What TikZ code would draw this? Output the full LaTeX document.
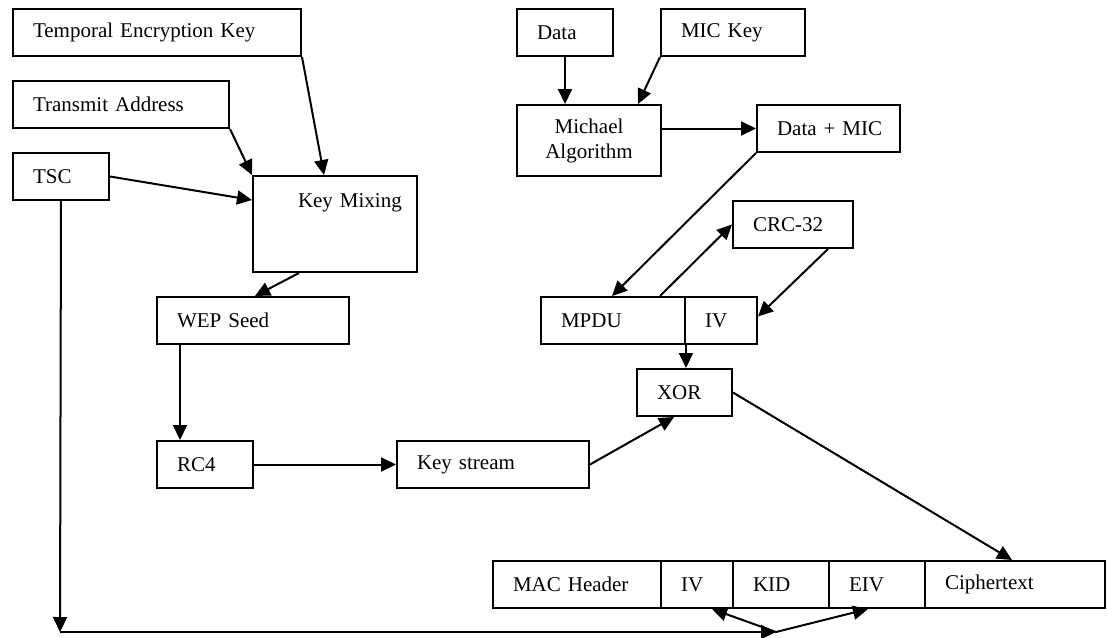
\documentclass[tikz,border=0pt]{standalone}
\usepackage{fontspec}
\setmainfont{Liberation Serif}
\usepackage{tikz}
\usetikzlibrary{arrows.meta}
\usetikzlibrary{positioning}
\tikzset{
	every path/.style={line width=1pt},
	blk/.style={
		draw,
		rectangle,
		anchor=north west,
		inner xsep=10pt,
		inner ysep=0pt,
		minimum height=23.5pt,
		align=left,
	},
	flow/.style={
		-{Triangle[length=7.5pt,width=7pt]}
	},
}

\begin{document}
\begin{tikzpicture}[
		x=0.5pt,y=-0.5pt,
		font=\fontsize{10.5}{12.5}\selectfont,
	]
		\useasboundingbox (0,0) rectangle (1107,637);

		% key mixing side
		\node[blk,text width=124pt] (tek) at (12,8) {Temporal Encryption Key};
		\node[blk,text width=88pt]  (tra) at (12,80) {Transmit Address};
		\node[blk,text width=28pt]  (tsc) at (12,152) {TSC};
		\node[blk,text width=66pt,inner xsep=8pt,minimum height=48pt,
			inner ysep=7.5pt,text height=8pt,text depth=25pt] (kmix) at (252,175) {\hspace*{14.5pt}\mbox{Key Mixing}};
		\node[blk,text width=76pt]  (wep) at (156,296) {WEP Seed};
		\node[blk,text width=28pt]  (rc4) at (156,440) {RC4};
		\node[blk,text width=76pt]  (kstr) at (396,440) {Key stream};

		% MIC side
		\node[blk,text width=28pt]  (data) at (516,8) {Data};
		\node[blk,text width=52pt]  (mick) at (660,8) {MIC Key};
		\node[blk,text width=52pt,align=center,minimum height=35.5pt] (mich) at (516,104) {Michael\\Algorithm};
		\node[blk,text width=51.5pt] (dmic) at (756,104) {\mbox{Data + MIC}};
		\node[blk,text width=40pt]  (crc) at (732,200) {CRC-32};
		\node[blk,text width=52pt]  (mpdu) at (540,296) {MPDU};
		\node[blk,text width=16pt]  (ivm) at (684,296) {IV};
		\node[blk,text width=27.5pt] (xor) at (636,368) {XOR};

		% output frame
		\node[blk,text width=64pt]  (mac) at (492,560) {MAC Header};
		\node[blk,text width=16pt]  (ivh) at (660,560) {IV};
		\node[blk,text width=28pt]  (kid) at (732,560) {KID};
		\node[blk,text width=28pt]  (eiv) at (828,560) {EIV};
		\node[blk,text width=70pt]  (ctext) at (924,560) {Ciphertext};

		\coordinate (bend) at (60,632);
		\coordinate (split) at (776,632);

		\draw[flow] (tek.south east) -- ([xshift=36pt]kmix.north west);
		\draw[flow] (tra.south east) -- (kmix.north west);
		\draw[flow] (tsc.east) -- ([yshift=-12.5pt]kmix.north west);
		\draw[flow] ([xshift=23.5pt]kmix.south west) -- ([xshift=49.5pt]wep.north west);
		\draw[flow] ([xshift=12pt]wep.south west) -- ([xshift=12pt]rc4.north west);
		\draw[flow] (rc4.east) -- (kstr.west);
		\draw[flow] (kstr.east) -- ([xshift=19pt]xor.south west);

		\draw[flow] (data.south) -- (data.south |- mich.north);
		\draw[flow] (mick.south west) -- ([xshift=-12pt]mich.north east);
		\draw[flow] (mich.east |- dmic.west) -- (dmic.west);
		\draw[flow] (dmic.south west) -- ([xshift=36pt]mpdu.north west);
		\draw[flow] ([xshift=60pt]mpdu.north west) -- (crc.west);
		\draw[flow] ([xshift=48pt]crc.south west) -- ([yshift=2pt]ivm.east);
		\draw[flow] (mpdu.south east) -- (mpdu.south east |- xor.north);
		\draw[flow] (xor.east) -- ([xshift=44pt]ctext.north west);

		\draw[flow] (tsc.south) -- (bend);
		\draw[flow] (bend) -- (split);
		\draw[flow] (split) -- ([xshift=26pt]ivh.south west);
		\draw[flow] (split) -- ([xshift=20pt]eiv.south west);

	\end{tikzpicture}
\end{document}
